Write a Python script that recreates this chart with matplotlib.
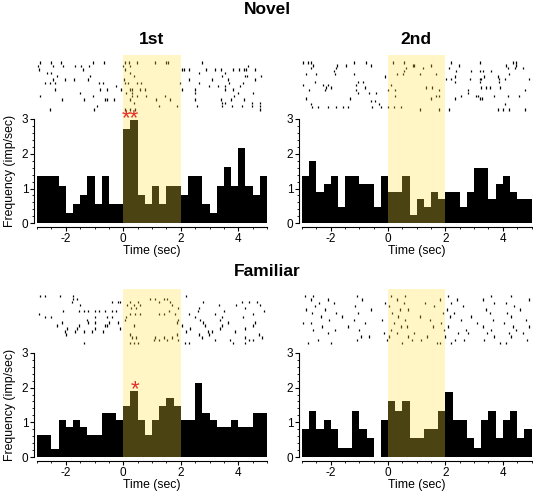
import matplotlib
matplotlib.use("Agg")
import matplotlib.pyplot as plt
import numpy as np
from matplotlib.ticker import FixedLocator

plt.rcParams["font.family"] = ["Liberation Sans", "DejaVu Sans"]
plt.rcParams["axes.unicode_minus"] = False

# PSTH bin edges (0.25 s bins from -3 to 5 s)
bin_edges = np.arange(-3.0, 5.0001, 0.25)

# firing rates (imp/sec)
novel_1st_rate = [1.36, 1.36, 1.36, 1.08, 0.29, 0.56, 0.81, 1.36, 0.56, 1.36, 0.56, 0.56,
                  2.70, 2.97, 0.81, 0.56, 1.08, 0.56, 1.08, 1.08,
                  0.81, 1.36, 1.36, 0.56, 0.29, 1.08, 1.63, 1.08, 2.16, 1.08, 0.81, 1.36]
novel_2nd_rate = [1.36, 1.79, 0.91, 1.13, 1.36, 0.46, 1.36, 1.36, 1.13, 1.13, 0.46, 1.36,
                  0.91, 0.91, 1.36, 0.24, 0.69, 0.46, 0.91, 0.69,
                  0.91, 0.91, 0.46, 0.91, 1.58, 1.58, 0.69, 1.13, 1.36, 0.91, 0.69, 0.69]
familiar_1st_rate = [0.64, 0.64, 0.24, 1.07, 0.86, 1.07, 0.86, 0.64, 0.64, 1.28, 1.28, 1.07,
                     1.48, 1.91, 1.07, 0.64, 1.07, 1.48, 1.69, 1.48,
                     1.07, 1.07, 2.12, 1.28, 1.07, 0.86, 0.86, 1.07, 0.86, 0.86, 1.28, 1.28]
familiar_2nd_rate = [0.81, 1.34, 0.81, 1.07, 0.81, 0.28, 0.28, 1.34, 0.81, 0.54, 0.0, 1.07,
                     1.61, 1.34, 1.61, 0.54, 0.54, 0.81, 0.81, 1.34,
                     1.88, 1.07, 1.07, 0.54, 0.28, 1.07, 1.34, 0.54, 1.07, 1.34, 0.54, 0.81]

# raster spike times (sec), one list per trial, top trial first
novel_1st_spikes = [
    [-2.89, -2.52, -2.17, -1.05, -0.66, 0.05, 0.21, 0.48, 1.11, 1.49, 1.55, 2.74],
    [-2.95, -2.45, -2.11, -1.67, -1.47, -1.19, -0.02, 0.24, 4.34],
    [-2.92, -1.40, 0.05, 2.04, 2.10, 2.27, 2.89, 3.20, 3.41, 3.81, 4.04, 4.19, 4.28, 4.57],
    [-2.65, -2.52, 0.22, 2.62, 3.55],
    [-2.31, -1.17, 0.36, 3.43, 4.22, 4.30, 4.80],
    [-2.45, -2.02, -1.72, -1.24, 0.01, 2.27, 3.08, 3.66, 4.59],
    [-2.71, -2.54, -2.38, -0.86, -0.71, 0.05, 0.15, 0.48, 0.63, 1.99, 2.62, 3.69, 4.18],
    [-0.25, 2.97, 3.29, 3.55, 4.07],
    [-2.38, -0.81, -0.55, -0.09, 0.24, 0.30, 0.57, 0.77, 2.04, 2.50, 3.53, 3.80],
    [-1.50, 0.10, 0.30, 2.48, 3.99, 4.51],
    [-2.89, -1.05, 0.29, 0.48, 0.78, 1.46, 3.85],
    [-2.13, -1.38, -0.63, -0.58, -0.31, 0.24, 1.14, 1.64, 2.51, 3.41, 3.76, 4.19],
    [0.36, 3.43, 3.53, 4.47, 4.77],
    [-0.90, 1.26, 1.87, 2.57, 3.43, 3.78, 4.13, 4.47, 4.77],
    [-2.54, -1.03, 0.05, 0.22, 0.40, 4.77],
]
novel_2nd_spikes = [
    [-2.97, -2.79, -2.68, -1.17, -0.76, 0.17, 0.57, 2.20, 3.19, 4.35, 4.47],
    [-2.62, -1.77, -1.46, -0.59, 0.86, 0.92, 1.50, 2.47, 4.12, 4.47],
    [-2.70, -1.81, 0.63, 1.21, 2.14, 4.18, 4.44, 4.70],
    [-1.89, 0.55, 2.37, 2.90, 3.19, 3.30, 3.60],
    [-2.85, -2.50, -1.86, -1.17, 0.32, 0.52, 1.10, 1.68, 4.23],
    [-0.12, 2.32, 3.33, 3.83],
    [2.03, 2.20, 2.84, 3.19, 3.25, 3.86, 4.06, 4.93],
    [-2.56, -1.05, -0.88, 2.32, 3.19, 3.85],
    [-2.97, -2.27, -2.10, -1.11, 0.11],
    [-2.15, -2.00, -0.82, 1.31, 1.54, 3.25, 3.42, 3.56, 3.89],
    [-2.74, -2.21, -1.11, -0.01, 0.23, 1.77, 2.78, 4.76],
    [-1.05, -0.65, -0.41, 2.78],
    [0.25, 1.68, 1.79, 2.55, 3.05, 3.13, 3.71, 4.18, 4.58],
    [-2.85, -1.34, 1.48, 2.35, 3.21, 3.26],
    [-0.59, -0.47],
    [-2.70, -0.30, 4.06],
    [-2.65, -2.45, -2.10, -1.81, -1.58, -1.40, -0.57, -0.24, -0.01, 0.20, 0.44],
    [1.10, 1.79, 2.14, 3.83, 4.00, 4.23, 4.76],
]
familiar_1st_spikes = [
    [-2.89, -2.71, -2.19, -1.75, 2.18],
    [-1.75, -1.61, 0.94, 1.11, 1.40, 1.52],
    [-1.79, -0.40, -0.20, -0.13, 0.24, 0.53, 1.23, 1.64, 2.79, 4.13, 4.36, 4.65],
    [-1.50, 0.13, 0.36, 0.59, 1.69, 3.32, 3.92, 4.76],
    [0.27, 0.45, 1.92, 2.62, 4.24],
    [-2.08, -1.55, -1.36, -1.21, -0.97, -0.86, -0.63, -0.40, -0.24, 1.58, 2.60, 3.49, 4.88],
    [-2.94, 0.24, 0.42, 0.59, 1.23, 1.40, 1.81, 2.27, 3.20, 4.53],
    [-2.71, -2.52, -0.97, -0.55, -0.40, 0.10, 2.50, 3.43, 4.15],
    [-1.26, 0.07, 1.92, 2.68, 3.37],
    [-2.13, -1.21, -0.97, -0.48, -0.20, 1.87, 2.79, 3.66, 4.59],
    [-2.31, -1.55, -0.63, -0.57, 0.38, 2.04, 2.85, 3.43, 4.53],
    [-1.96, -1.61, -0.97, -0.10, 2.33, 3.37, 4.24],
    [-2.02, -1.67, -1.38, -1.09, -0.71, 2.18, 2.94, 3.08, 3.90],
    [-1.98, 0.24, 1.87, 2.62, 2.97, 4.71],
    [0.30, 0.45, 1.11, 1.40, 1.69, 2.74, 4.24, 4.82],
    [1.06, 1.23, 1.52, 1.92, 3.20, 3.72, 4.36, 4.53],
    [-1.38, 0.22, 0.36, 0.53, 2.16, 2.27, 3.80, 4.22],
]
familiar_2nd_spikes = [
    [-2.90, -2.60, -1.10, 0.10, 0.60, 2.10, 3.60, 4.30],
    [-2.70, -2.10, -0.90, 0.30, 1.80, 2.40, 3.30, 4.90],
    [-2.40, -1.90, -0.10, 0.55, 1.30, 2.20, 3.70, 4.10],
    [-2.55, -1.15, 0.05, 1.60, 2.60, 4.40],
    [-2.85, -2.20, -0.60, 0.40, 0.70, 2.05, 3.40, 4.60],
    [-2.65, -1.80, -1.05, 0.15, 1.90, 2.30, 3.55, 4.15],
    [-2.35, -1.60, 0.35, 1.10, 2.15, 2.90, 4.30],
    [-2.05, -1.20, -0.20, 0.60, 1.45, 2.55, 3.65, 4.80],
    [-2.95, -2.70, -0.80, 0.20, 1.85, 3.10, 4.05],
    [-2.30, -1.40, 0.45, 0.65, 1.55, 2.10, 3.30, 4.35, 4.90],
    [-2.60, -1.85, -1.00, 0.10, 1.95, 2.70, 3.60, 4.45],
    [-2.10, -0.15, 0.30, 0.90, 2.45, 2.80, 3.45, 4.20, 4.70],
    [-0.95, -0.65, 0.05, 0.70, 1.35, 2.00, 3.70, 4.30],
    [-2.45, -1.10, -0.05, 0.85, 1.15, 2.35, 2.65, 3.35, 4.85],
    [-2.80, -2.00, 0.50, 1.70, 1.80, 2.20, 3.90, 4.10],
]

stim_on, stim_off = 0.0, 2.0
shade_rgb = (1.0, 0.88, 0.26)
star_red = "#e2312a"

W, H = 533, 496


def draw_panel(ax, rates, spikes):
    top = 4.84
    ax.stairs(rates, bin_edges, fill=True, color="black", zorder=2)

    n = len(spikes)
    rows = np.linspace(4.62, 3.27, n)
    ax.eventplot(spikes, lineoffsets=rows, linelengths=0.068,
                 linewidths=0.9, colors="black", zorder=2)

    ax.axvspan(stim_on, stim_off, color=shade_rgb, alpha=0.3, lw=0, zorder=5)

    ax.set_xlim(-3, 5)
    ax.set_ylim(0, top)
    for side in ("top", "right"):
        ax.spines[side].set_visible(False)
    ax.spines["left"].set_bounds(0, 3)
    ax.spines["bottom"].set_bounds(-3, 5)
    ax.spines["left"].set_position(("outward", 2.2))
    ax.spines["bottom"].set_position(("outward", 2.9))
    for side in ("left", "bottom"):
        ax.spines[side].set_linewidth(0.8)

    ax.set_xticks([-2, 0, 2, 4])
    ax.xaxis.set_minor_locator(FixedLocator(np.arange(-3, 5.01, 0.5)))
    ax.set_yticks([0, 1, 2, 3])
    ax.yaxis.set_minor_locator(FixedLocator(np.arange(0, 3.01, 0.2)))
    ax.tick_params(which="major", length=3, width=0.8, pad=1, labelsize=8.5)
    ax.tick_params(which="minor", length=1.6, width=0.6)
    ax.set_xlabel("Time (sec)", fontsize=8.8, labelpad=0)


fig = plt.figure(figsize=(W / 100, H / 100), dpi=100)

# panel geometry in pixels: left, right, y of zero, y of top
boxes = {
    "n1": (37, 267, 223.3, 55),
    "n2": (302, 531.5, 223.3, 55),
    "f1": (37, 267, 457.3, 288.5),
    "f2": (302, 531.5, 457.3, 288.5),
}
panels = {}
for key, (x0, x1, y0, y1) in boxes.items():
    panels[key] = fig.add_axes([x0 / W, 1 - y0 / H, (x1 - x0) / W, (y0 - y1) / H])

draw_panel(panels["n1"], novel_1st_rate, novel_1st_spikes)
draw_panel(panels["n2"], novel_2nd_rate, novel_2nd_spikes)
draw_panel(panels["f1"], familiar_1st_rate, familiar_1st_spikes)
draw_panel(panels["f2"], familiar_2nd_rate, familiar_2nd_spikes)

panels["n1"].text(0.25, 2.84, "**", color=star_red, fontsize=16, ha="center",
                  va="baseline", zorder=6, clip_on=False)
panels["f1"].text(0.40, 1.77, "*", color=star_red, fontsize=16, ha="center",
                  va="baseline", zorder=6, clip_on=False)

for ycen in (171, 405):
    fig.text(10 / W, 1 - ycen / H, "Frequency (imp/sec)", rotation=90,
             ha="center", va="center", fontsize=8.8)

fig.text(267 / W, 1 - 9 / H, "Novel", ha="center", va="center",
         fontsize=12.5, fontweight="bold")
fig.text(152 / W, 1 - 40 / H, "1st", ha="center", va="center",
         fontsize=12.5, fontweight="bold")
fig.text(416 / W, 1 - 40 / H, "2nd", ha="center", va="center",
         fontsize=12.5, fontweight="bold")
fig.text(267 / W, 1 - 272 / H, "Familiar", ha="center", va="center",
         fontsize=12.5, fontweight="bold")

fig.savefig("out.png", dpi=100)
